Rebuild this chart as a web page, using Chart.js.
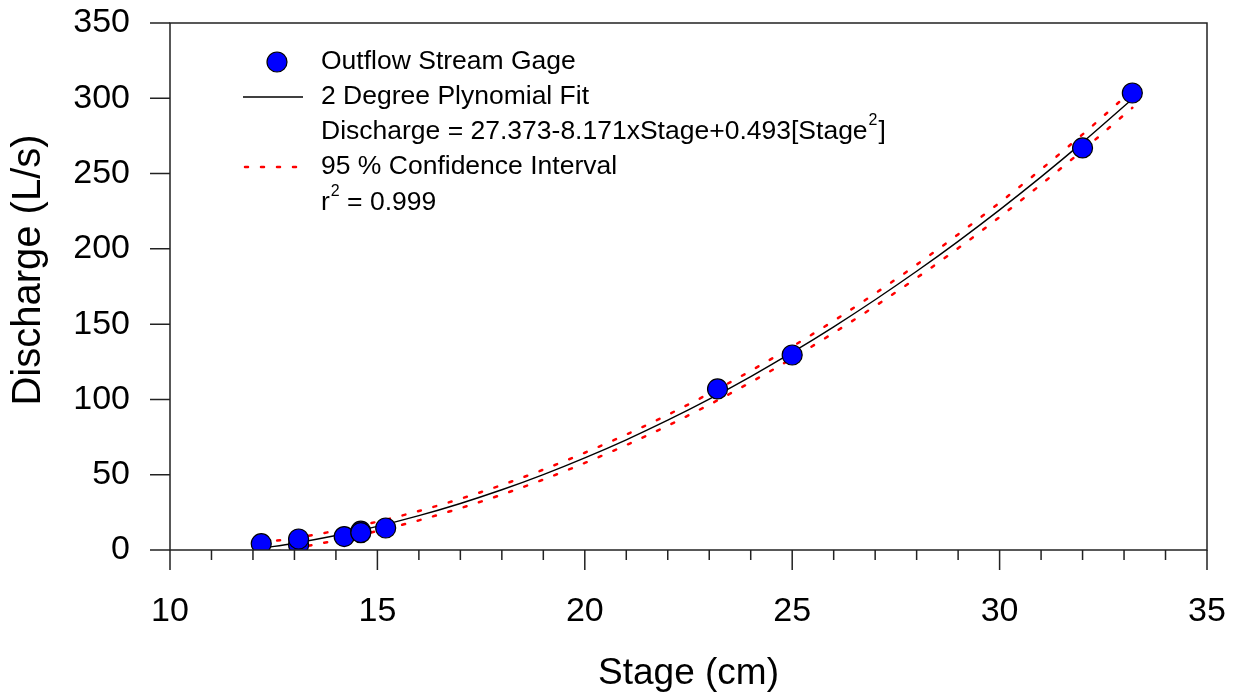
<!DOCTYPE html>
<html>
<head>
<meta charset="utf-8">
<script src="https://cdn.jsdelivr.net/npm/chart.js@4.4.1/dist/chart.umd.min.js"></script>
<style>
  html, body { margin: 0; padding: 0; background: #fff; }
  #wrap { width: 1238px; height: 698px; }
</style>
</head>
<body>
<div id="wrap"><canvas id="rating"></canvas></div>
<script>
// observed stage / discharge pairs
const stageObs = [12.2, 13.1, 13.1, 14.2, 14.6, 14.6, 15.2, 23.2, 25.0, 32.0, 33.2];
const dischargeObs = [4.2, 3.5, 7.3, 8.9, 12.5, 11.5, 14.6, 107, 129.5, 267, 303.5];

// fitted curve and 95% band
const fitStage = [12.2, 13, 14, 15, 16, 17, 18, 19, 20, 21, 22, 23, 24, 25, 26, 27, 28, 29, 30, 31, 32, 33.2];
const fitDischarge = [1.1, 4.5, 9.6, 15.7, 22.8, 30.9, 40.0, 50.1, 61.2, 73.2, 86.2, 100.2, 115.2, 131.2, 148.2, 166.2, 185.1, 205.0, 225.9, 247.8, 270.7, 299.5];
const ciUpper = [4.9, 7.9, 12.8, 18.8, 25.9, 34.0, 43.2, 53.4, 64.6, 76.7, 89.8, 103.9, 119.0, 135.1, 152.2, 170.4, 189.5, 209.6, 230.7, 252.8, 276.0, 305.3];
const ciLower = [-2.7, 1.1, 6.4, 12.6, 19.7, 27.8, 36.8, 46.8, 57.8, 69.7, 82.6, 96.5, 111.4, 127.3, 144.2, 162.0, 180.7, 200.4, 221.1, 242.8, 265.4, 293.7];

const xTicks = [10, 15, 20, 25, 30, 35];
const yTicks = [0, 50, 100, 150, 200, 250, 300, 350];

const FONT = 'Liberation Sans, Arial, sans-serif';

function pairs(xs, ys) {
    return xs.map((x, i) => ({ x: x, y: ys[i] }));
}

function noPad(s) {
    s.paddingTop = 0;
    s.paddingBottom = 0;
    s.paddingLeft = 0;
    s.paddingRight = 0;
}

// box, outward ticks (major + minor), y title and the legend block
const frame = {
    id: 'frame',
    afterDraw(chart) {
        const ctx = chart.ctx;
        const a = chart.chartArea;
        const xs = chart.scales.x;
        const ys = chart.scales.y;
        ctx.save();
        ctx.strokeStyle = '#222';
        ctx.lineWidth = 1.5;
        ctx.strokeRect(a.left, a.top, a.right - a.left, a.bottom - a.top);

        ctx.beginPath();
        for (let v = xs.min; v <= xs.max; v++) {
            const px = xs.getPixelForValue(v);
            const len = v % 5 === 0 ? 20 : 10;
            ctx.moveTo(px, a.bottom);
            ctx.lineTo(px, a.bottom + len);
        }
        yTicks.forEach(v => {
            const py = ys.getPixelForValue(v);
            ctx.moveTo(a.left, py);
            ctx.lineTo(a.left - 20, py);
        });
        ctx.stroke();

        // y axis title
        ctx.save();
        ctx.translate(29, 270);
        ctx.rotate(-Math.PI / 2);
        ctx.font = '40px ' + FONT;
        ctx.fillStyle = '#000';
        ctx.textAlign = 'center';
        ctx.textBaseline = 'middle';
        ctx.fillText('Discharge (L/s)', 0, 0);
        ctx.restore();

        // legend
        const lx = 321;
        const rows = [62, 97, 132, 167, 203];
        const big = '26.5px ' + FONT;
        const sup = '16px ' + FONT;
        ctx.font = big;
        ctx.textBaseline = 'middle';
        ctx.textAlign = 'left';

        ctx.beginPath();
        ctx.arc(277, rows[0], 10, 0, Math.PI * 2);
        ctx.fillStyle = '#0000ff';
        ctx.fill();
        ctx.lineWidth = 1.2;
        ctx.strokeStyle = '#000';
        ctx.stroke();
        ctx.fillStyle = '#000';
        ctx.fillText('Outflow Stream Gage', lx, rows[0]);

        ctx.beginPath();
        ctx.moveTo(243, rows[1]);
        ctx.lineTo(303, rows[1]);
        ctx.lineWidth = 1.3;
        ctx.stroke();
        ctx.fillText('2 Degree Plynomial Fit', lx, rows[1]);

        let t = 'Discharge = 27.373-8.171xStage+0.493[Stage';
        ctx.fillText(t, lx, rows[2]);
        let w = ctx.measureText(t).width;
        ctx.font = sup;
        ctx.fillText('2', lx + w + 1, rows[2] - 11);
        let w2 = ctx.measureText('2').width;
        ctx.font = big;
        ctx.fillText(']', lx + w + w2 + 2, rows[2]);

        ctx.beginPath();
        ctx.setLineDash([3, 13]);
        ctx.lineCap = 'round';
        ctx.strokeStyle = '#ff0000';
        ctx.lineWidth = 2.5;
        ctx.moveTo(245, rows[3]);
        ctx.lineTo(303, rows[3]);
        ctx.stroke();
        ctx.setLineDash([]);
        ctx.fillText('95 % Confidence Interval', lx, rows[3]);

        ctx.fillText('r', lx, rows[4]);
        w = ctx.measureText('r').width;
        ctx.font = sup;
        ctx.fillText('2', lx + w + 1, rows[4] - 11);
        w2 = ctx.measureText('2').width;
        ctx.font = big;
        ctx.fillText(' = 0.999', lx + w + w2 + 1, rows[4]);
        ctx.restore();
    }
};

const bandStyle = {
    showLine: true,
    borderColor: '#ff0000',
    borderWidth: 2.5,
    borderDash: [3, 13],
    borderCapStyle: 'round',
    pointRadius: 0,
    cubicInterpolationMode: 'monotone',
    order: 2
};

new Chart(document.getElementById('rating').getContext('2d'), {
    type: 'scatter',
    data: {
        datasets: [
            {
                label: 'Outflow Stream Gage',
                data: pairs(stageObs, dischargeObs),
                backgroundColor: '#0000ff',
                borderColor: '#000',
                borderWidth: 1.2,
                pointRadius: 10,
                order: 0
            },
            {
                label: '2 Degree Plynomial Fit',
                data: pairs(fitStage, fitDischarge),
                showLine: true,
                borderColor: '#000',
                borderWidth: 1.4,
                pointRadius: 0,
                cubicInterpolationMode: 'monotone',
                order: 1
            },
            Object.assign({ label: '95 % Confidence Interval', data: pairs(fitStage, ciUpper) }, bandStyle),
            Object.assign({ label: 'lower', data: pairs(fitStage, ciLower) }, bandStyle)
        ]
    },
    options: {
        responsive: true,
        maintainAspectRatio: false,
        animation: false,
        layout: { padding: { top: 23, right: 31, left: 0, bottom: 0 } },
        plugins: {
            legend: { display: false },
            tooltip: { enabled: false }
        },
        scales: {
            x: {
                type: 'linear',
                min: 10,
                max: 35,
                afterFit: s => { s.height = 148; noPad(s); },
                afterBuildTicks: s => { s.ticks = xTicks.map(v => ({ value: v })); },
                grid: { display: false, drawTicks: false },
                border: { display: false },
                ticks: {
                    color: '#000',
                    font: { family: FONT, size: 34 },
                    padding: 41,
                    maxRotation: 0
                },
                title: {
                    display: true,
                    text: 'Stage (cm)',
                    color: '#000',
                    font: { family: FONT, size: 37 },
                    padding: { top: 0, bottom: 2 }
                }
            },
            y: {
                type: 'linear',
                min: 0,
                max: 350,
                afterFit: s => { s.width = 170; noPad(s); },
                afterBuildTicks: s => { s.ticks = yTicks.map(v => ({ value: v })); },
                grid: { display: false, drawTicks: false },
                border: { display: false },
                ticks: {
                    color: '#000',
                    font: { family: FONT, size: 34 },
                    padding: 40
                },
                title: { display: false }
            }
        }
    },
    plugins: [frame]
});
</script>
</body>
</html>
